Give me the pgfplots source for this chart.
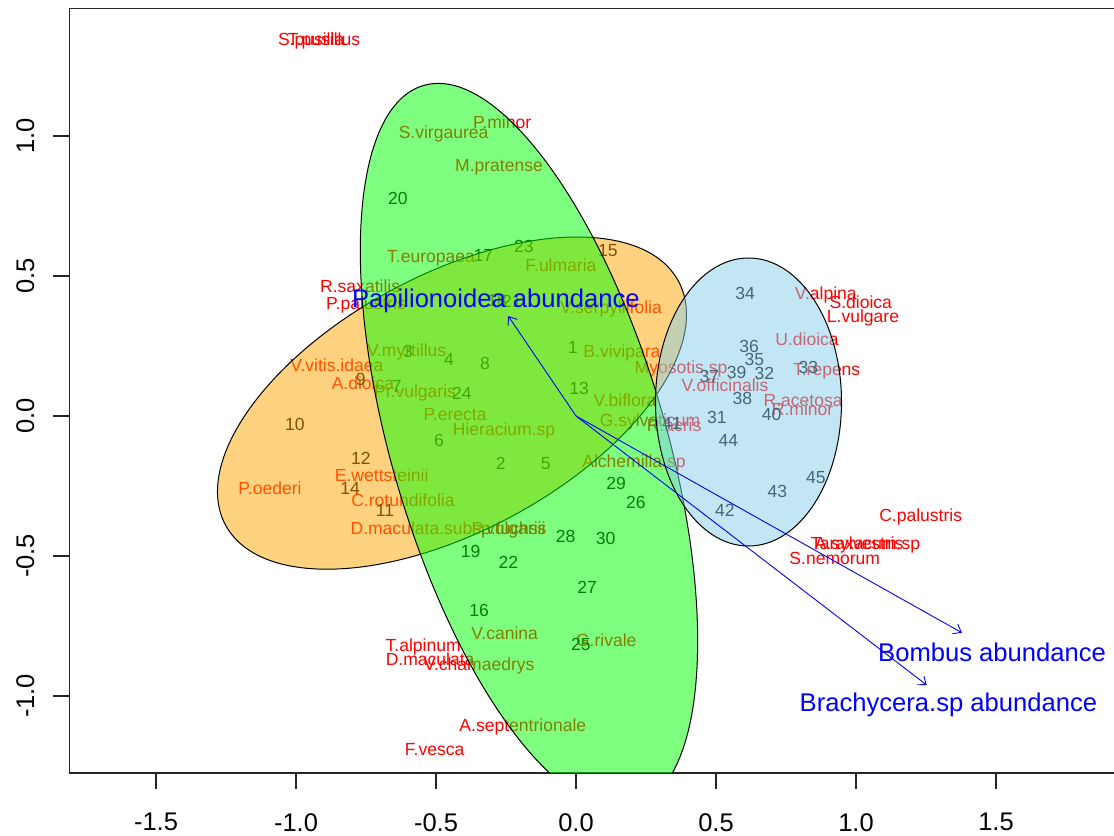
\documentclass[border=0pt]{standalone}
\usepackage{pgfplots}
\usepackage{pgfplotstable}
\pgfplotsset{compat=1.18}
\usepackage{fontspec}
\setmainfont{Liberation Sans}
\usetikzlibrary{arrows.meta}

\definecolor{ellOrange}{RGB}{255,165,0}
\definecolor{ellGreen}{RGB}{0,255,0}
\definecolor{ellBlue}{RGB}{135,206,235}

% species scores
\pgfplotstableread{
x y lab
-0.946 1.346 S.pusilla
-0.900 1.346 T.pusillus
-0.264 1.048 P.minor
-0.473 1.015 S.virgaurea
-0.275 0.894 M.pratense
-0.518 0.571 T.europaea
-0.054 0.537 F.ulmaria
-0.771 0.465 R.saxatilis
-0.750 0.404 P.palustris
0.125 0.388 V.serpyllifolia
-0.605 0.236 V.myrtillus
0.164 0.230 B.vivipara
-0.854 0.182 V.vitis.idaea
-0.761 0.117 A.dioica
-0.575 0.087 Pr.vulgaris
-0.432 0.007 P.erecta
-0.257 -0.048 Hieracium.sp
0.207 -0.163 Alchemilla.sp
-0.694 -0.211 E.wettsteinii
-1.093 -0.258 P.oederi
-0.618 -0.300 C.rotundifolia
-0.457 -0.401 D.maculata.subsp.fuchsii
-0.239 -0.401 P.vulgaris
-0.255 -0.774 V.canina
0.108 -0.800 G.rivale
-0.546 -0.820 T.alpinum
-0.521 -0.868 D.maculata
-0.346 -0.887 V.chamaedrys
-0.190 -1.104 A.septentrionale
-0.505 -1.190 F.vesca
0.892 0.440 V.alpina
1.017 0.406 S.dioica
1.025 0.358 L.vulgare
0.825 0.275 U.dioica
0.375 0.176 Myosotis.sp
0.895 0.167 T.repens
0.532 0.111 V.officinalis
0.811 0.057 R.acetosa
0.809 0.024 R.minor
0.350 -0.032 R.acris
0.264 -0.014 G.sylvaticum
0.175 0.057 V.biflora
1.231 -0.354 C.palustris
1.034 -0.454 Taraxacum.sp
1.011 -0.454 A.sylvestris
0.924 -0.508 S.nemorum
}\species

% site scores
\pgfplotstableread{
x y lab
-0.011 0.244 1
-0.269 -0.167 2
-0.600 0.230 3
-0.454 0.204 4
-0.108 -0.169 5
-0.489 -0.088 6
-0.640 0.105 7
-0.325 0.190 8
-0.769 0.131 9
-1.004 -0.030 10
-0.682 -0.336 11
-0.768 -0.151 12
0.011 0.099 13
-0.807 -0.258 14
0.114 0.593 15
-0.346 -0.693 16
-0.331 0.575 17
-0.282 0.414 18
-0.376 -0.482 19
-0.636 0.779 20
-0.229 0.411 21
-0.242 -0.523 22
-0.186 0.605 23
-0.408 0.081 24
0.017 -0.814 25
0.214 -0.308 26
0.040 -0.610 27
-0.037 -0.431 28
0.143 -0.240 29
0.106 -0.437 30
0.503 -0.006 31
0.673 0.153 32
0.830 0.173 33
0.604 0.438 34
0.637 0.203 35
0.618 0.248 36
0.476 0.143 37
0.594 0.065 38
0.574 0.155 39
0.699 0.006 40
0.342 -0.024 41
0.532 -0.338 42
0.719 -0.268 43
0.544 -0.086 44
0.857 -0.217 45
}\sites

% fitted pollinator vectors
\pgfplotstableread{
x y lab
-0.286 0.421 {Papilionoidea abundance}
1.486 -0.845 {Bombus abundance}
1.330 -1.024 {Brachycera.sp abundance}
}\vectorlabels

\begin{document}
\begin{tikzpicture}
\begin{axis}[
  clip marker paths=true,
  x=280bp, y=280bp,
  xmin=-1.809, xmax=2.3, ymin=-1.275, ymax=1.455,
  axis line style={line width=1.4bp, black!85},
  tick style={line width=1.4bp, black!85},
  major tick length=16bp,
  tick align=outside,
  xtick pos=left, ytick pos=left,
  xtick={-1.5,-1,-0.5,0,0.5,1,1.5},
  xticklabels={-1.5,-1.0,-0.5,0.0,0.5,1.0,1.5},
  ytick={-1,-0.5,0,0.5,1},
  yticklabels={-1.0,-0.5,0.0,0.5,1.0},
  tick label style={font=\fontsize{25.6}{30}\selectfont, inner sep=0pt},
  yticklabel style={rotate=90, anchor=south},
  yticklabel shift=19bp,
  xticklabel style={anchor=north},
  xticklabel shift=24bp,
  label text/.style={only marks, mark=none, nodes near coords,
    point meta=explicit symbolic},
]
% point labels first, so the translucent ellipses tint them
\addplot[label text,
  every node near coord/.append style={anchor=center, inner sep=0pt,
    font=\fontsize{17.6}{20}\selectfont, text=red,
    text height=12.6bp, text depth=0pt}]
  table[x=x, y=y, meta=lab] {\species};
\addplot[label text,
  every node near coord/.append style={anchor=center, inner sep=0pt,
    font=\fontsize{17.6}{20}\selectfont, text=black,
    text height=12.6bp, text depth=0pt}]
  table[x=x, y=y, meta=lab] {\sites};

% group ellipses
\draw[line width=1bp, fill=ellOrange, fill opacity=0.5]
  (axis cs:-0.443,0.046) ellipse [x radius=257.2bp, y radius=128.1bp, rotate=28.3];
\draw[line width=1bp, fill=ellGreen, fill opacity=0.5]
  (axis cs:-0.168,-0.107) ellipse [x radius=375.6bp, y radius=137.2bp, rotate=-73.7];
\draw[line width=1bp, fill=ellBlue, fill opacity=0.5]
  (axis cs:0.616,0.050) ellipse [x radius=93bp, y radius=144bp];

% vectors
\addplot[blue, line width=0.9bp, -{Straight Barb[length=7bp, width=11bp]}]
  coordinates {(0,0) (-0.242,0.357)};
\addplot[blue, line width=0.9bp, -{Straight Barb[length=7bp, width=11bp]}]
  coordinates {(0,0) (1.378,-0.774)};
\addplot[blue, line width=0.9bp, -{Straight Barb[length=7bp, width=11bp]}]
  coordinates {(0,0) (1.2525,-0.961)};
\addplot[label text,
  every node near coord/.append style={anchor=center, inner sep=0pt,
    font=\fontsize{25.7}{30}\selectfont, text=blue,
    text height=18.4bp, text depth=0pt}]
  table[x=x, y=y, meta=lab] {\vectorlabels};
\end{axis}
\pgfresetboundingbox
\path[use as bounding box] (-69.5bp,-63bp) rectangle (1044.5bp,773bp);
\end{tikzpicture}
\end{document}
